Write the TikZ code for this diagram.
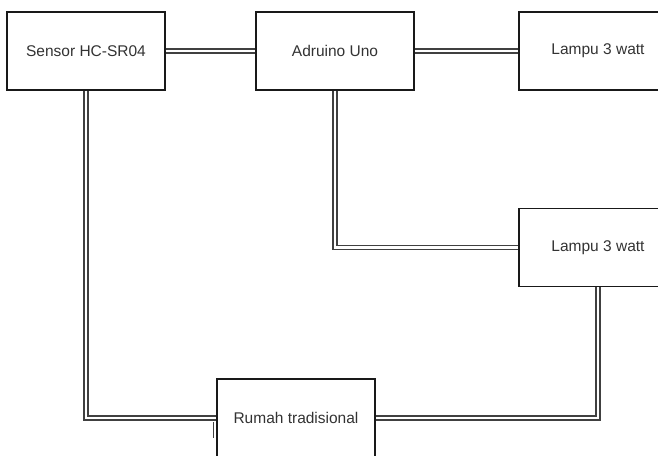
\documentclass[tikz,border=0pt]{standalone}
\usepackage{fontspec}
\setmainfont{Liberation Sans}
\begin{document}
\begin{tikzpicture}[x=1pt,y=-1pt,
    blok/.style={draw=black!90,line width=1.2pt,fill=white,minimum width=158pt,
      minimum height=78pt,inner sep=0pt,text=black!80,
      font=\fontsize{15.5}{18}\selectfont},
    kabel/.style={draw=black!75,line width=1.3pt,double=white,double distance=2.8pt}]
      \useasboundingbox (0,0) rectangle (658,455);
      \clip (0,0) rectangle (658,455);
      \draw
        (86,51) node[blok] (sensor){Sensor HC-SR04}
        (335,51) node[blok] (arduino){Adruino Uno}
        (598,51) node[blok] (lampu1){Lampu 3 watt}
        (598,247.5) node[blok] (lampu2){Lampu 3 watt}
        (296,418) node[blok] (rumah){Rumah tradisional};
      \draw[kabel] (sensor) to (arduino);
      \draw[kabel] (arduino) to (lampu1);
      \draw[kabel] (arduino.south) |- (lampu2.west);
      \draw[kabel] (sensor.south) |- (rumah.west);
      \draw[kabel] (lampu2.south) |- (rumah.east);
      \draw[black!75,line width=1.2pt] ([xshift=-3pt,yshift=-4pt]rumah.west) -- ++(0,16);
    \end{tikzpicture}
\end{document}
